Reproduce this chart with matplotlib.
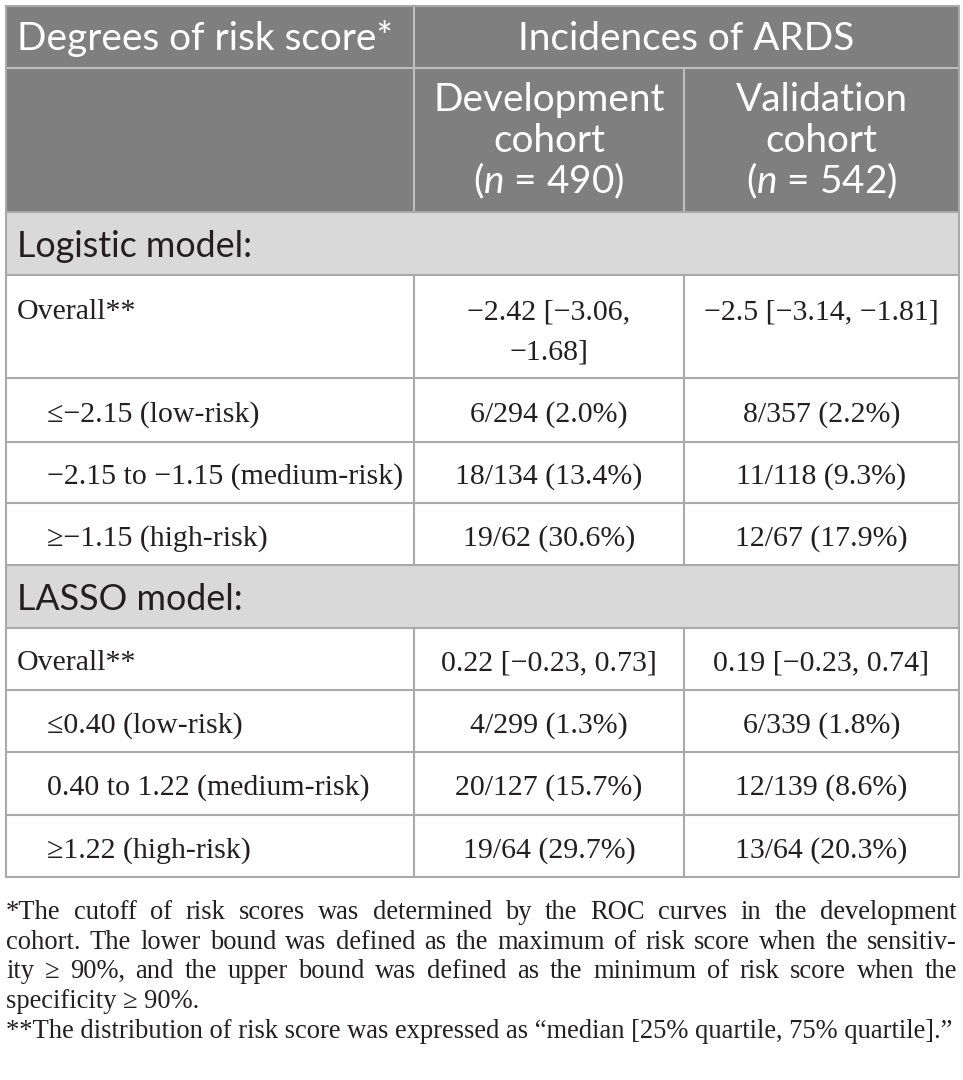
import matplotlib
matplotlib.use('Agg')
import matplotlib.pyplot as plt
from matplotlib.patches import Rectangle

# 表格內容
header_first = "Degrees of risk score*"
header_span = "Incidences of ARDS"
cohort_names = ["Development", "Validation"]
cohort_n = [490, 542]
model_names = ["Logistic model:", "LASSO model:"]

logistic_labels = ["Overall**", "≤−2.15 (low-risk)", "−2.15 to −1.15 (medium-risk)", "≥−1.15 (high-risk)"]
logistic_dev = ["−2.42 [−3.06,\n−1.68]", "6/294 (2.0%)", "18/134 (13.4%)", "19/62 (30.6%)"]
logistic_val = ["−2.5 [−3.14, −1.81]", "8/357 (2.2%)", "11/118 (9.3%)", "12/67 (17.9%)"]

lasso_labels = ["Overall**", "≤0.40 (low-risk)", "0.40 to 1.22 (medium-risk)", "≥1.22 (high-risk)"]
lasso_dev = ["0.22 [−0.23, 0.73]", "4/299 (1.3%)", "20/127 (15.7%)", "19/64 (29.7%)"]
lasso_val = ["0.19 [−0.23, 0.74]", "6/339 (1.8%)", "12/139 (8.6%)", "13/64 (20.3%)"]

footnote_lines = [
    "*The cutoff of risk scores was determined by the ROC curves in the development",
    "cohort. The lower bound was defined as the maximum of risk score when the sensitiv-",
    "ity ≥ 90%, and the upper bound was defined as the minimum of risk score when the",
    "specificity ≥ 90%.",
    "**The distribution of risk score was expressed as “median [25% quartile, 75% quartile].”",
]
footnote_justify = [True, True, True, False, False]

# 版面
W, H = 963, 1080
L, R = 6, 959
C1, C2 = 414, 684
SANS = ['Lato', 'DejaVu Sans']
SERIF = ['Liberation Serif', 'DejaVu Serif']
INK = '#231f20'
HEAD_BG = '#7f7f7f'
SEC_BG = '#d9d9d9'
GRID = '#a9a9a9'
HEAD_GRID = '#bfbfbf'
LW = 1.5

plt.rcParams['mathtext.fontset'] = 'custom'
plt.rcParams['mathtext.it'] = 'Lato:italic'
plt.rcParams['mathtext.rm'] = 'Lato'

fig = plt.figure(figsize=(W / 100, H / 100), dpi=100)
ax = fig.add_axes([0, 0, 1, 1])
ax.set_xlim(0, W)
ax.set_ylim(H, 0)
ax.axis('off')
renderer = fig.canvas.get_renderer()


def text_width(s, **kw):
    t = ax.text(0, 0, s, **kw)
    w = t.get_window_extent(renderer).width
    t.remove()
    return w


def fit_size(s, target, **kw):
    return 10 * target / text_width(s, fontsize=10, **kw)


fs_head = fit_size(header_first, 376, family=SANS)
fs_sec = fit_size(model_names[0], 236, family=SANS)
fs_body = fit_size(logistic_labels[2], 357, family=SERIF)
fs_foot = fit_size(footnote_lines[4], 947, family=SERIF)

# 背景
ax.add_patch(Rectangle((L, 6), R - L, 212 - 6, color=HEAD_BG, lw=0))
for top, bot in [(212, 275), (565, 628)]:
    ax.add_patch(Rectangle((L, top), R - L, bot - top, color=SEC_BG, lw=0))

# 格線
ax.plot([L, R], [68, 68], color=HEAD_GRID, lw=LW)
ax.plot([C1, C1], [6, 212], color=HEAD_GRID, lw=LW)
ax.plot([C2, C2], [68, 212], color=HEAD_GRID, lw=LW)
for y in [212, 275, 378, 442, 503, 565, 628, 690, 752, 815]:
    ax.plot([L, R], [y, y], color=GRID, lw=LW)
for x in [C1, C2]:
    ax.plot([x, x], [275, 565], color=GRID, lw=LW)
    ax.plot([x, x], [628, 877], color=GRID, lw=LW)
ax.plot([L, R, R, L, L], [6, 6, 877, 877, 6], color=GRID, lw=LW)

# 表頭
ax.text(17, 50, header_first, family=SANS, fontsize=fs_head, color='white', va='baseline')
ax.text((C1 + R) / 2, 50, header_span, family=SANS, fontsize=fs_head, color='white',
        va='baseline', ha='center')
for xc, name, n in zip([(C1 + C2) / 2, (C2 + R) / 2], cohort_names, cohort_n):
    for yb, s in zip([111, 152, 193], [name, "cohort", rf"($n$ = {n})"]):
        ax.text(xc, yb, s, family=SANS, fontsize=fs_head, color='white', va='baseline', ha='center')

# 內容
sections = [
    (model_names[0], 257, [275, 378, 442, 503, 565], logistic_labels, logistic_dev, logistic_val),
    (model_names[1], 610, [628, 690, 752, 815, 877], lasso_labels, lasso_dev, lasso_val),
]
for title, yb_title, edges, labels, dev, val in sections:
    ax.text(17, yb_title, title, family=SANS, fontsize=fs_sec, color=INK, va='baseline')
    for i, (lab, d, v) in enumerate(zip(labels, dev, val)):
        top, bot = edges[i], edges[i + 1]
        if bot - top > 80:
            yb = top + 44
        else:
            yb = (top + bot) / 2 + 11.5
        x0 = 17 if i == 0 else 47
        ax.text(x0, yb, lab, family=SERIF, fontsize=fs_body, color=INK, va='baseline')
        for xc, s in zip([(C1 + C2) / 2, (C2 + R) / 2], [d, v]):
            for k, line in enumerate(s.split('\n')):
                ax.text(xc, yb + k * 40, line, family=SERIF, fontsize=fs_body, color=INK,
                        va='baseline', ha='center')

# 註腳 (左右對齊)
foot_base = [919, 949, 978, 1008, 1038]
for line, yb, just in zip(footnote_lines, foot_base, footnote_justify):
    if not just:
        ax.text(L, yb, line, family=SERIF, fontsize=fs_foot, color=INK, va='baseline')
        continue
    words = line.split(' ')
    widths = [text_width(w, family=SERIF, fontsize=fs_foot) for w in words]
    gap = (951 - sum(widths)) / (len(words) - 1)
    x = L
    for w, wd in zip(words, widths):
        ax.text(x, yb, w, family=SERIF, fontsize=fs_foot, color=INK, va='baseline')
        x += wd + gap

fig.savefig('out.png', dpi=100)
